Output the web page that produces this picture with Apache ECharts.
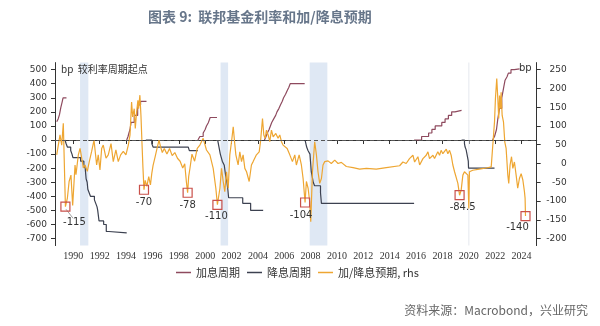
<!DOCTYPE html>
<html><head><meta charset="utf-8">
<script src="https://cdn.jsdelivr.net/npm/echarts@6/dist/echarts.min.js"></script>
<style>html,body{margin:0;padding:0;background:#fff}#c{width:600px;height:326px}</style>
</head><body><div id="c"></div>
<script>
// ---- data (year, bp) ----
const leftTicks = [-700,-600,-500,-400,-300,-200,-100,0,100,200,300,400,500];
const rightTicks = [-200,-150,-100,-50,0,50,100,150,200,250];
const yearTicks = [1990,1992,1994,1996,1998,2000,2002,2004,2006,2008,2010,2012,2014,2016,2018,2020,2022,2024];

// hike cycles (lhs, bp vs cycle start)
const hike1988 = [[1988.74,130],[1988.85,150],[1988.95,180],[1989.05,230],[1989.15,270],[1989.22,300],[1989.48,300]];
const hike1994 = [[1994.05,0],[1994.15,25],[1994.22,50],[1994.3,75],[1994.38,125],[1994.62,175],[1994.88,250],[1995.1,275],[1995.55,275]];
const hike1999 = [[1999.45,0],[1999.6,25],[1999.85,50],[2000.0,75],[2000.1,100],[2000.25,125],[2000.38,160],[2000.9,160]];
const hike2004 = [[2004.5,0],[2004.62,25],[2004.72,50],[2004.85,75],[2004.95,100],[2005.05,125],[2005.2,150],[2005.35,175],[2005.45,200],[2005.6,225],[2005.72,250],[2005.85,275],[2005.95,300],[2006.1,325],[2006.22,350],[2006.35,375],[2006.45,400],[2007.55,400]];
const hike2016 = [[2015.85,0],[2016.42,25],[2016.95,50],[2017.2,75],[2017.45,100],[2017.95,125],[2018.2,150],[2018.45,175],[2018.7,200],[2018.95,210],[2019.45,210]];
const hike2022 = [[2021.8,0],[2021.95,25],[2022.1,75],[2022.2,150],[2022.33,225],[2022.5,300],[2022.65,375],[2022.75,425],[2022.9,450],[2023.0,475],[2023.2,500],[2023.45,505],[2023.85,505]];

// cut cycles
const cut1989 = [[1989.37,0],[1989.45,-25],[1989.55,-50],[1989.8,-75],[1989.9,-100],[1989.97,-125],[1990.55,-150],[1990.8,-175],[1990.9,-200],[1990.97,-275],[1991.05,-300],[1991.1,-350],[1991.2,-375],[1991.3,-400],[1991.6,-425],[1991.7,-450],[1991.8,-475],[1991.85,-500],[1991.95,-575],[1992.3,-600],[1992.5,-650],[1992.7,-660],[1994.05,-660]];
const cut1995 = [[1995.5,0],[1995.95,-25],[1996.05,-50],[1998.72,-50],[1998.8,-75],[1999.45,-75]];
const cut2001 = [[2000.95,0],[2001.05,-50],[2001.15,-100],[2001.3,-150],[2001.45,-180],[2001.55,-250],[2001.65,-300],[2001.72,-350],[2001.78,-410],[2002.85,-450],[2003.45,-500],[2004.4,-500]];
const cut2007 = [[2007.58,0],[2007.7,-50],[2007.8,-75],[2007.95,-100],[2008.05,-225],[2008.2,-300],[2008.3,-325],[2008.75,-375],[2008.82,-450],[2015.85,-450]];
const cut2019 = [[2019.45,0],[2019.67,-25],[2019.72,-50],[2019.8,-70],[2019.93,-70],[2019.96,-150],[2019.98,-200],[2021.95,-200]];

// expected hikes/cuts (rhs)
const expectation = [[1988.74,23],[1988.99,76],[1989.12,49],[1989.24,107],[1989.4,-115],[1989.55,-92],[1989.68,-48],[1989.82,-31],[1989.95,-112],[1990.13,-4],[1990.2,-30],[1990.38,23],[1990.51,40],[1990.64,14],[1990.76,-12],[1990.89,-4],[1991.06,-21],[1991.21,5],[1991.39,32],[1991.57,62],[1991.77,-4],[1991.89,23],[1992.02,-17],[1992.15,40],[1992.27,49],[1992.48,14],[1992.65,23],[1992.86,53],[1993.03,5],[1993.23,36],[1993.41,5],[1993.59,23],[1993.79,32],[1993.99,23],[1994.17,49],[1994.3,76],[1994.42,164],[1994.5,124],[1994.62,146],[1994.7,93],[1994.8,137],[1994.9,168],[1994.95,146],[1995.05,182],[1995.13,128],[1995.2,62],[1995.28,-10],[1995.36,-70],[1995.45,-45],[1995.58,-61],[1995.72,-35],[1995.85,-57],[1995.95,-27],[1996.05,-5],[1996.2,17],[1996.35,40],[1996.5,62],[1996.6,47],[1996.75,29],[1996.9,40],[1997.1,25],[1997.3,40],[1997.5,21],[1997.7,29],[1997.9,14],[1998.1,6],[1998.3,-12],[1998.45,-1],[1998.58,-50],[1998.67,-78],[1998.75,-35],[1998.85,-12],[1999.0,25],[1999.2,6],[1999.4,40],[1999.6,49],[1999.85,67],[2000.1,36],[2000.36,23],[2000.61,-13],[2000.81,-66],[2000.93,-110],[2001.12,-66],[2001.24,-13],[2001.37,-48],[2001.49,-75],[2001.62,-22],[2001.75,-66],[2001.87,23],[2002.0,58],[2002.13,98],[2002.23,58],[2002.33,23],[2002.5,-4],[2002.63,31],[2002.76,5],[2002.88,23],[2003.01,-13],[2003.14,-22],[2003.34,-48],[2003.51,-4],[2003.64,5],[2003.89,23],[2004.1,31],[2004.2,58],[2004.35,120],[2004.45,76],[2004.55,67],[2004.65,89],[2004.78,76],[2004.9,58],[2005.03,89],[2005.16,71],[2005.36,80],[2005.53,67],[2005.66,76],[2005.79,58],[2005.91,49],[2006.04,54],[2006.22,40],[2006.42,23],[2006.62,5],[2006.8,23],[2006.92,-4],[2007.13,23],[2007.3,-4],[2007.43,-40],[2007.58,-104],[2007.68,-48],[2007.81,-66],[2007.93,-102],[2008.01,-155],[2008.14,-22],[2008.31,58],[2008.44,23],[2008.56,-22],[2008.69,-53],[2008.82,-40],[2008.94,-4],[2009.07,5],[2009.32,7],[2009.57,0],[2009.83,9],[2010.08,0],[2010.33,3],[2010.71,-8],[2011.22,-11],[2011.72,-15],[2012.23,-13],[2012.98,-15],[2013.74,-11],[2014.75,-6],[2015.0,4],[2015.25,0],[2015.5,13],[2015.76,22],[2015.89,4],[2016.14,18],[2016.27,-4],[2016.52,13],[2016.77,22],[2016.9,31],[2017.02,13],[2017.28,22],[2017.4,13],[2017.65,31],[2017.78,22],[2017.9,35],[2018.03,26],[2018.29,38],[2018.41,26],[2018.54,35],[2018.66,22],[2018.79,-4],[2018.92,-22],[2019.04,-20],[2019.17,-53],[2019.3,-84.5],[2019.42,-71],[2019.55,-31],[2019.67,-22],[2019.8,-18],[2019.93,-31],[2020.0,-120],[2020.05,-22],[2020.3,-18],[2020.8,-15],[2021.32,-12],[2021.7,-9],[2021.82,49],[2021.95,111],[2022.02,173],[2022.12,226],[2022.2,173],[2022.27,120],[2022.33,181],[2022.4,146],[2022.45,190],[2022.53,128],[2022.63,111],[2022.73,57],[2022.83,40],[2022.96,-31],[2023.03,-53],[2023.13,-4],[2023.24,18],[2023.34,-13],[2023.46,4],[2023.59,-31],[2023.71,-66],[2023.84,-40],[2023.97,-27],[2024.1,-44],[2024.22,-75],[2024.27,-93],[2024.3,-140]];

// annotated troughs: [year, rhs value, label]
const troughs = [[1989.4,-115,'-115'],[1995.36,-70,'-70'],[1998.67,-78,'-78'],[2000.93,-110,'-110'],[2007.58,-104,'-104'],[2019.3,-84.5,'-84.5'],[2024.3,-140,'-140']];
const labelOffsets = [[9,3],[0,0],[0,0],[-1,-1],[-4,0],[3,-1],[-8,-2]];
// recessions
const recessions = [[1990.51,1991.14],[2001.17,2001.74],[2007.93,2009.27]];
const covidBar = [[2019.95,2020.05]];

const HIKE='#8e4a5e', CUT='#3c4150', EXP='#eea632';
const chart = echarts.init(document.getElementById('c'));
const stepSeries = (name, data, color) => ({
  name, type:'line', data, step:'end', yAxisIndex:0, showSymbol:false, symbol:'none',
  lineStyle:{color, width:1.2}, itemStyle:{color}, z:3, silent:true, animation:false
});
const series = [
  { name:'bg', type:'line', data:[], yAxisIndex:0, z:1, silent:true,
    markArea:{silent:true, itemStyle:{color:'#dfe8f4'},
      data: recessions.map(r=>[{xAxis:r[0]},{xAxis:r[1]}]).concat(covidBar.map(r=>[{xAxis:r[0],itemStyle:{color:'#eceef2'}},{xAxis:r[1]}]))},
    markLine:{silent:true, symbol:'none', label:{show:false},
      lineStyle:{color:'#555', type:[4,3], width:1}, data:[{yAxis:0}]}
  },
  stepSeries('加息周期', hike1988, HIKE),
  stepSeries('加息周期', hike1994, HIKE),
  stepSeries('加息周期', hike1999, HIKE),
  stepSeries('加息周期', hike2004, HIKE),
  stepSeries('加息周期', hike2016, HIKE),
  stepSeries('加息周期', hike2022, HIKE),
  stepSeries('降息周期', cut1989, CUT),
  stepSeries('降息周期', cut1995, CUT),
  stepSeries('降息周期', cut2001, CUT),
  stepSeries('降息周期', cut2007, CUT),
  stepSeries('降息周期', cut2019, CUT),
  { name:'加/降息预期, rhs', type:'line', data:expectation, yAxisIndex:1, showSymbol:false, symbol:'none',
    lineStyle:{color:EXP, width:1.2}, itemStyle:{color:EXP}, z:4, silent:true,
    markPoint:{silent:true, symbol:'rect', symbolSize:9,
      itemStyle:{color:'rgba(0,0,0,0)', borderColor:'#c9504a', borderWidth:1.2},
      label:{show:true, position:'bottom', distance:3, color:'#333', fontSize:10, fontFamily:'DejaVu Sans'},
      data: troughs.map((t,i)=>({coord:[t[0],t[1]], label:{formatter:t[2], offset:labelOffsets[i]}}))},
    markLine:{silent:true, symbol:'none', label:{show:false}, lineStyle:{color:'#888', width:0.8, type:'solid'},
      data:[[{coord:[1989.45,-122]},{coord:[1989.98,-146]}]]}
  }
];

chart.setOption({
  animation:false,
  backgroundColor:'#fff',
  title:{text:'图表 9:  联邦基金利率和加/降息预期', left:143, top:5,
    textStyle:{fontSize:14, fontWeight:'bold', color:'#67768a', fontFamily:'Noto Sans CJK SC'}},
  grid:{left:55, right:63.3, top:62.6, bottom:80.4},
  legend:{left:171, top:262, icon:'rect', itemWidth:15, itemHeight:1.5, itemGap:7,
    textStyle:{fontSize:11, color:'#333', fontFamily:'Noto Sans CJK SC'},
    data:['加息周期','降息周期','加/降息预期, rhs']},
  xAxis:{type:'value', min:1988.61, max:2025.15,
    axisLine:{lineStyle:{color:'#333'}},
    axisTick:{show:true, length:4, lineStyle:{color:'#333'}, customValues:yearTicks},
    axisLabel:{customValues:yearTicks, margin:6, color:'#333', fontSize:10, fontFamily:'Liberation Serif', formatter:v=>String(Math.round(v))},
    splitLine:{show:false}},
  yAxis:[
    {type:'value', min:-750, max:550, position:'left',
     axisLine:{show:true, lineStyle:{color:'#333'}},
     axisTick:{show:true, length:4, lineStyle:{color:'#333'}, customValues:leftTicks},
     axisLabel:{customValues:leftTicks, margin:8, color:'#333', fontSize:9, fontFamily:'DejaVu Sans'},
     splitLine:{show:false}},
    {type:'value', min:-218.75, max:268.75, position:'right',
     axisLine:{show:true, lineStyle:{color:'#333'}},
     axisTick:{show:true, length:4, lineStyle:{color:'#333'}, customValues:rightTicks},
     axisLabel:{customValues:rightTicks, margin:30, align:'right', color:'#333', fontSize:9, fontFamily:'DejaVu Sans'},
     splitLine:{show:false}}
  ],
  graphic:[
    {type:'text', z:100, left:61, top:64, style:{text:'bp  较利率周期起点', fontSize:10, fill:'#333', fontFamily:'Noto Sans CJK SC'}},
    {type:'text', z:100, left:519, top:63, style:{text:'bp', fontSize:10, fill:'#333', fontFamily:'DejaVu Sans'}},
    {type:'text', z:100, right:12, top:304, style:{text:'资料来源：Macrobond，兴业研究', fontSize:12, fill:'#666', fontFamily:'Noto Sans CJK SC'}}
  ],
  series
});
</script></body></html>
